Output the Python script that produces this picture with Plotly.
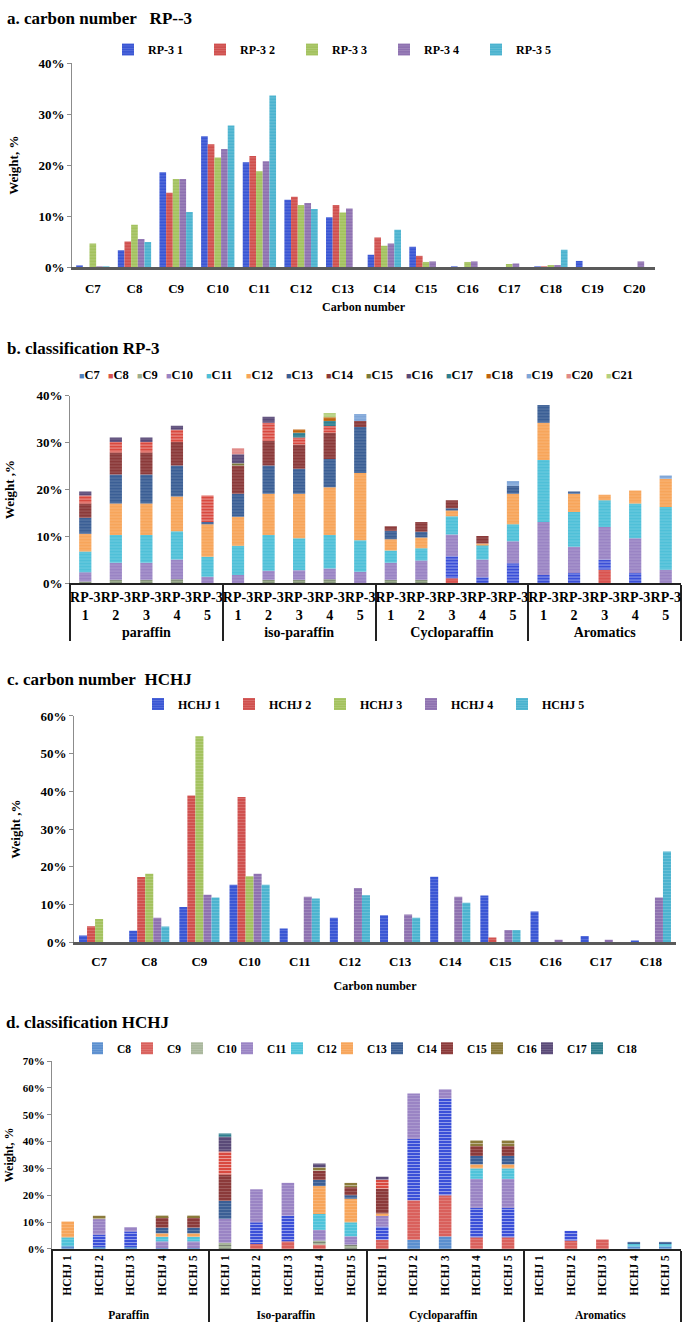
import plotly.graph_objects as go

W, H = 685, 1334
FONT = "Liberation Serif"

# ---------------- Panel a: carbon number RP-3 ----------------
a_categories = ["C7", "C8", "C9", "C10", "C11", "C12", "C13", "C14", "C15", "C16", "C17", "C18", "C19", "C20"]
a_series_names = ["RP-3 1", "RP-3 2", "RP-3 3", "RP-3 4", "RP-3 5"]
a_rp3_1 = [0.3, 3.3, 18.6, 25.7, 20.6, 13.2, 9.8, 2.4, 4.0, 0.1, 0.0, 0.1, 1.2, 0.0]
a_rp3_2 = [0.0, 5.0, 14.6, 24.1, 21.8, 13.8, 12.2, 5.8, 2.2, 0.0, 0.0, 0.1, 0.0, 0.0]
a_rp3_3 = [4.6, 8.3, 17.3, 21.5, 18.8, 12.2, 10.7, 4.2, 1.0, 1.0, 0.6, 0.4, 0.0, 0.0]
a_rp3_4 = [0.1, 5.5, 17.3, 23.2, 20.8, 12.6, 11.5, 4.6, 1.1, 1.1, 0.7, 0.4, 0.0, 1.1]
a_rp3_5 = [0.1, 4.9, 10.8, 27.8, 33.7, 11.4, 0.0, 7.3, 0.0, 0.0, 0.0, 3.4, 0.0, 0.0]

# ---------------- Panel b: classification RP-3 (stacked) ----------------
b_groups = ["paraffin"] * 5 + ["iso-paraffin"] * 5 + ["Cycloparaffin"] * 5 + ["Aromatics"] * 5
b_samples = ["RP-3<br>1", "RP-3<br>2", "RP-3<br>3", "RP-3<br>4", "RP-3<br>5"] * 4
b_C7 = [0] * 20
b_C8 = [0, 0, 0, 0, 0,  0, 0, 0, 0, 0,  0, 0, 1.1, 0, 0,  0, 0, 2.9, 0, 0]
b_C9 = [0.4, 0.8, 0.8, 0.9, 0,  0, 0.8, 0.8, 0.9, 0,  0.8, 0.8, 4.7, 1.3, 4.3,  1.8, 2.2, 2.2, 2.2, 0]
b_C10 = [2.0, 3.6, 3.6, 4.2, 1.4,  1.8, 1.9, 2.0, 2.3, 2.5,  3.6, 4.1, 4.6, 3.8, 4.7,  11.3, 5.6, 6.9, 7.4, 2.9]
b_C11 = [4.4, 5.9, 5.9, 6.0, 4.3,  6.2, 7.6, 6.8, 7.1, 6.7,  2.6, 2.6, 3.9, 3.1, 3.6,  13.2, 7.4, 5.7, 7.4, 13.4]
b_C12 = [3.8, 6.7, 6.7, 7.4, 6.9,  6.2, 8.8, 9.5, 10.2, 14.3,  2.4, 2.3, 1.3, 0.3, 6.5,  7.9, 3.9, 1.2, 2.8, 6.0]
b_C13 = [3.4, 6.2, 6.2, 6.6, 0.5,  4.9, 6.0, 5.3, 6.0, 9.8,  1.8, 1.2, 0.4, 0, 1.7,  3.8, 0.5, 0, 0, 0]
b_C14 = [3.0, 4.7, 4.7, 5.0, 0,  6.0, 5.3, 5.2, 5.6, 1.3,  1.0, 2.1, 1.7, 1.6, 0,  0, 0, 0, 0, 0]
b_C15 = [1.7, 2.2, 2.2, 2.6, 5.6,  0.5, 3.8, 1.5, 1.4, 0,  0, 0, 0, 0, 0,  0, 0, 0, 0, 0]
b_C16 = [0.9, 1.0, 1.0, 0.9, 0,  1.9, 1.3, 0, 0, 0,  0, 0, 0, 0, 0,  0, 0, 0, 0, 0]
b_C17 = [0, 0, 0, 0, 0,  0, 0, 1.0, 1.1, 0,  0, 0, 0, 0, 0,  0, 0, 0, 0, 0]
b_C18 = [0, 0, 0, 0, 0,  0, 0, 0.7, 0.8, 0,  0, 0, 0, 0, 0,  0, 0, 0, 0, 0]
b_C19 = [0, 0, 0, 0, 0,  0, 0, 0, 0, 1.5,  0, 0, 0, 0, 1.0,  0, 0, 0, 0, 0.7]
b_C20 = [0, 0, 0, 0, 0,  1.3, 0, 0, 0, 0,  0, 0, 0, 0, 0,  0, 0, 0, 0, 0]
b_C21 = [0, 0, 0, 0, 0,  0, 0, 0, 0.9, 0,  0, 0, 0, 0, 0,  0, 0, 0, 0, 0]
b_series = [("C7", b_C7), ("C8", b_C8), ("C9", b_C9), ("C10", b_C10), ("C11", b_C11),
            ("C12", b_C12), ("C13", b_C13), ("C14", b_C14), ("C15", b_C15), ("C16", b_C16),
            ("C17", b_C17), ("C18", b_C18), ("C19", b_C19), ("C20", b_C20), ("C21", b_C21)]

# ---------------- Panel c: carbon number HCHJ ----------------
c_categories = ["C7", "C8", "C9", "C10", "C11", "C12", "C13", "C14", "C15", "C16", "C17", "C18"]
c_series_names = ["HCHJ 1", "HCHJ 2", "HCHJ 3", "HCHJ 4", "HCHJ 5"]
c_hchj_1 = [1.8, 3.1, 9.4, 15.3, 3.7, 6.5, 7.2, 17.4, 12.4, 8.2, 1.7, 0.5]
c_hchj_2 = [4.3, 17.3, 38.9, 38.5, 0, 0, 0, 0, 1.3, 0, 0, 0]
c_hchj_3 = [6.2, 18.2, 54.6, 17.5, 0, 0, 0, 0, 0, 0, 0, 0]
c_hchj_4 = [0, 6.5, 12.6, 18.2, 12.1, 14.4, 7.4, 12.1, 3.3, 0.7, 0.7, 11.9]
c_hchj_5 = [0, 4.2, 11.9, 15.3, 11.6, 12.5, 6.5, 10.5, 3.3, 0, 0, 24.1]

# ---------------- Panel d: classification HCHJ (stacked) ----------------
d_groups = ["Paraffin"] * 5 + ["Iso-paraffin"] * 5 + ["Cycloparaffin"] * 5 + ["Aromatics"] * 5
d_samples = ["HCHJ 1", "HCHJ 2", "HCHJ 3", "HCHJ 4", "HCHJ 5"] * 4
d_C8 = [1.0, 0.7, 0.7, 0.3, 0.3,  0, 0, 0, 0, 0,  0, 3.4, 4.65, 0, 0,  0, 0, 0, 0.9, 0.9]
d_C9 = [0, 0, 0, 0, 0,  0, 1.8, 2.8, 1.6, 0,  3.4, 14.7, 15.3, 4.3, 4.3,  0, 3.1, 3.5, 0, 0]
d_C10 = [0, 4.6, 5.8, 0, 0,  2.3, 8.1, 9.6, 1.5, 1.6,  4.9, 22.9, 36.1, 11.0, 11.0,  0, 3.6, 0, 0, 0]
d_C11 = [0, 5.8, 1.6, 2.5, 2.5,  8.9, 12.3, 12.2, 4.0, 3.1,  4.3, 16.9, 3.4, 10.8, 10.8,  0, 0, 0, 0, 0]
d_C12 = [3.3, 0, 0, 1.7, 1.7,  0, 0, 0, 5.9, 5.2,  0, 0, 0, 3.9, 3.9,  0, 0, 0, 0.9, 0.9]
d_C13 = [5.9, 0, 0, 1.3, 1.3,  0, 0, 0, 10.4, 8.8,  0.6, 0, 0, 1.5, 1.5,  0, 0, 0, 0, 0]
d_C14 = [0, 0, 0, 2.1, 2.1,  6.7, 0, 0, 2.3, 1.3,  0, 0, 0, 3.1, 3.1,  0, 0, 0, 0.8, 0.8]
d_C15 = [0, 0, 0, 3.9, 3.9,  9.8, 0, 0, 3.4, 3.0,  9.2, 0, 0, 3.7, 3.7,  0, 0, 0, 0, 0]
d_C16 = [0, 1.3, 0, 0.7, 0.7,  8.6, 0, 0, 1.3, 1.6,  3.4, 0, 0, 2.2, 2.2,  0, 0, 0, 0, 0]
d_C17 = [0, 0, 0, 0, 0,  5.5, 0, 0, 1.4, 0,  1.1, 0, 0, 0, 0,  0, 0, 0, 0, 0]
d_C18 = [0, 0, 0, 0, 0,  1.2, 0, 0, 0, 0,  0, 0, 0, 0, 0,  0, 0, 0, 0, 0]
d_series = [("C8", d_C8), ("C9", d_C9), ("C10", d_C10), ("C11", d_C11), ("C12", d_C12),
            ("C13", d_C13), ("C14", d_C14), ("C15", d_C15), ("C16", d_C16), ("C17", d_C17),
            ("C18", d_C18)]

# ---------------- styles ----------------
ac_colors = ["#3A56D4", "#D0504E", "#A3C25E", "#8E71B0", "#4BB3CF"]
b_colors = {"C7": "#4F81BD", "C8": "#D9534F", "C9": "#9DAE8F", "C10": "#9A84C4", "C11": "#4FC0D8",
            "C12": "#F7A55A", "C13": "#3B5F95", "C14": "#8B3A3A", "C15": "#7A7A3A", "C16": "#5A4A78",
            "C17": "#2F7F8F", "C18": "#C0640F", "C19": "#7FA6D8", "C20": "#E08A88", "C21": "#B5D07F"}
d_colors = {"C8": "#5B8FCF", "C9": "#D9605C", "C10": "#A9B79C", "C11": "#9A84C4", "C12": "#4FC3DA",
            "C13": "#F7A55A", "C14": "#3B5F95", "C15": "#8B3A3A", "C16": "#8A7A3A", "C17": "#5A4A78",
            "C18": "#2F7F8F"}
VIVID = "#3A4FD8"
REDSTRIPE = "#D9493F"
# series whose thick segments are drawn with an alternative fill: (colour, stripe colour, threshold)
b_alt = {"C9": (VIVID, "rgba(255,255,255,0.55)", 1.2), "C15": (REDSTRIPE, "#F6B36A", 1.0)}
d_alt = {"C10": (VIVID, "rgba(255,255,255,0.55)", 3.0), "C16": (REDSTRIPE, "#F6B36A", 2.5)}
STRIPE = "rgba(255,255,255,0.38)"


def F(size):
    return dict(family=FONT, size=size, color="black", weight="bold")


def pat(fg):
    return dict(shape="-", fillmode="overlay", fgcolor=fg, size=3, solidity=0.3)


def py(p):  # pixel row -> paper y
    return 1 - p / H


def px(p):  # pixel column -> paper x
    return p / W


fig = go.Figure()

# panel a traces
for name, vals, col in zip(a_series_names, [a_rp3_1, a_rp3_2, a_rp3_3, a_rp3_4, a_rp3_5], ac_colors):
    fig.add_trace(go.Bar(x=a_categories, y=vals, name=name, xaxis="x", yaxis="y", legend="legend",
                         marker=dict(color=col, line=dict(width=0), pattern=pat(STRIPE))))

# panel c traces
for name, vals, col in zip(c_series_names, [c_hchj_1, c_hchj_2, c_hchj_3, c_hchj_4, c_hchj_5], ac_colors):
    fig.add_trace(go.Bar(x=c_categories, y=vals, name=name, xaxis="x3", yaxis="y3", legend="legend3",
                         marker=dict(color=col, line=dict(width=0), pattern=pat(STRIPE))))


def add_stack(series, groups, samples, colors, alt, xa, ya, grp, legend):
    cum = [0.0] * len(groups)
    for name, vals in series:
        base_col = colors[name]
        if name in alt:
            acol, afg, thr = alt[name]
            cols = [acol if v > thr else base_col for v in vals]
            fgs = [afg if v > thr else STRIPE for v in vals]
        else:
            cols = base_col
            fgs = STRIPE
        kw = dict(legend=legend) if legend else dict(showlegend=False)
        fig.add_trace(go.Bar(x=[groups, samples], y=vals, base=list(cum), name=name,
                             xaxis=xa, yaxis=ya, offsetgroup=grp, width=0.4,
                             marker=dict(color=cols, line=dict(width=0),
                                         pattern=dict(shape="-", fillmode="overlay", fgcolor=fgs,
                                                      size=3, solidity=0.3)),
                             **kw))
        cum = [c + v for c, v in zip(cum, vals)]


add_stack(b_series, b_groups, b_samples, b_colors, b_alt, "x2", "y2", "b", None)
add_stack(d_series, d_groups, d_samples, d_colors, d_alt, "x4", "y4", "d", "legend4")

# ---------------- layout ----------------
ycommon = dict(showgrid=False, zeroline=False, showline=True, linecolor="#8c8c8c", linewidth=1,
               ticks="outside", ticklen=4, tickcolor="#8c8c8c", ticksuffix="%", dtick=10, tick0=0)

annotations = [
    dict(text="a. carbon number\u00a0\u00a0\u00a0RP--3", x=px(5), y=py(12)),
    dict(text="b. classification RP-3", x=px(5), y=py(345)),
    dict(text="c. carbon number\u00a0\u00a0HCHJ", x=px(5), y=py(680)),
    dict(text="d. classification HCHJ", x=px(4), y=py(1027)),
]
for a in annotations:
    a.update(xref="paper", yref="paper", xanchor="left", yanchor="middle", showarrow=False, font=F(17))

# panel b legend drawn as text entries (single compact row like the original)
bx = 77
for name, _ in b_series:
    col = b_colors[name]
    annotations.append(dict(
        text=f'<span style="color:{col};font-size:9px">\u25A0</span>{name}',
        x=px(bx), y=py(372), xref="paper", yref="paper", xanchor="left", yanchor="middle",
        showarrow=False, font=F(12.5)))
    bx += 29 if len(name) == 2 else 40

fig.update_layout(
    width=W, height=H, autosize=False,
    margin=dict(l=0, r=0, t=0, b=0),
    paper_bgcolor="white", plot_bgcolor="white",
    font=F(13),
    barmode="group", bargap=0.2, bargroupgap=0,
    annotations=annotations,
    xaxis=dict(domain=[px(72), px(655)], anchor="y", type="category", showline=True, linecolor="#5a5a5a",
               linewidth=2.5, ticks="", tickfont=F(13), ticklabelstandoff=8,
               title=dict(text="Carbon number", font=F(12), standoff=8)),
    yaxis=dict(domain=[py(263), py(57)], anchor="x", range=[0, 40], tickfont=F(13),
               title=dict(text="Weight, %", font=F(13), standoff=16), **ycommon),
    xaxis2=dict(domain=[px(70), px(681)], anchor="y2", type="multicategory", showline=True,
                linecolor="#222", linewidth=1.5, ticks="", showdividers=True, dividercolor="#222",
                dividerwidth=1.5, tickangle=0, tickfont=F(14)),
    yaxis2=dict(domain=[py(583), py(393)], anchor="x2", range=[0, 40], tickfont=F(13),
                title=dict(text="Weight ,%", font=F(13), standoff=18), **ycommon),
    xaxis3=dict(domain=[px(74), px(676)], anchor="y3", type="category", showline=True, linecolor="#5a5a5a",
                linewidth=2.5, ticks="", tickfont=F(13), ticklabelstandoff=5,
                title=dict(text="Carbon number", font=F(12), standoff=14)),
    yaxis3=dict(domain=[py(946), py(717)], anchor="x3", range=[0, 60], tickfont=F(13),
                title=dict(text="Weight ,%", font=F(13), standoff=16), **ycommon),
    xaxis4=dict(domain=[px(52), px(681)], anchor="y4", type="multicategory", showline=True,
                linecolor="#222", linewidth=1.5, ticks="", showdividers=True, dividercolor="#222",
                dividerwidth=1.5, tickangle=-90, tickfont=F(11.5)),
    yaxis4=dict(domain=[py(1256), py(1066)], anchor="x4", range=[0, 70], tickfont=F(11),
                title=dict(text="Weight, %", font=F(12), standoff=6), **ycommon),
    legend=dict(orientation="h", x=px(108), y=py(43), xanchor="left", yanchor="middle",
                entrywidth=47, entrywidthmode="pixels", font=F(12), bgcolor="rgba(0,0,0,0)"),
    legend3=dict(orientation="h", x=px(138), y=py(705), xanchor="left", yanchor="middle",
                 entrywidth=46, entrywidthmode="pixels", font=F(12), bgcolor="rgba(0,0,0,0)"),
    legend4=dict(orientation="h", x=px(92), y=py(1053), xanchor="left", yanchor="middle",
                 entrywidth=20, entrywidthmode="pixels", indentation=-15, font=F(11.5),
                 bgcolor="rgba(0,0,0,0)"),
)

# remove the browser's default 8px page margin so the 685x1334 figure fills the window exactly
fig.write_html("out.html", config={"displayModeBar": False},
               post_script="document.body.style.margin='0';document.body.style.padding='0';")
